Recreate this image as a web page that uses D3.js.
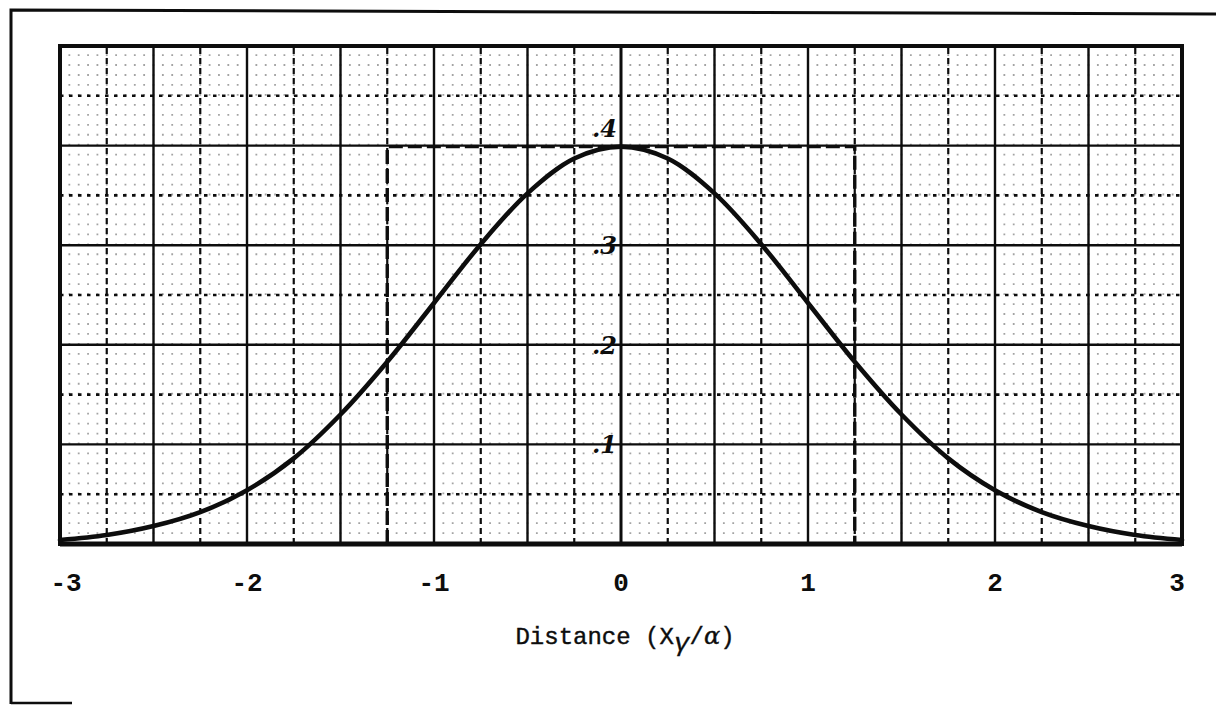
<!DOCTYPE html>
<html>
<head>
<meta charset="utf-8">
<script src="https://cdn.jsdelivr.net/npm/d3@7"></script>
<style>
  html, body { margin: 0; padding: 0; background: #fff; }
  svg { display: block; }
</style>
</head>
<body>
<svg id="chart" width="1216" height="705"></svg>
<script>
// Normal density curve, sampled every quarter unit
const curveX = [-3, -2.75, -2.5, -2.25, -2, -1.75, -1.5, -1.25, -1, -0.75, -0.5, -0.25,
                0, 0.25, 0.5, 0.75, 1, 1.25, 1.5, 1.75, 2, 2.25, 2.5, 2.75, 3];
const curveY = [0.004, 0.009, 0.018, 0.032, 0.054, 0.086, 0.130, 0.183, 0.242, 0.301, 0.352, 0.387,
                0.399, 0.387, 0.352, 0.301, 0.242, 0.183, 0.130, 0.086, 0.054, 0.032, 0.018, 0.009, 0.004];

// Rectangle of equal area drawn under the peak
const boxX = [-1.25, 1.25];

// Axis labelling
const xTickValues = [-3, -2, -1, 0, 1, 2, 3];
const xTickLabels = ["-3", "-2", "-1", "0", "1", "2", "3"];
const yTickValues = [0.1, 0.2, 0.3, 0.4];
const yTickLabels = [".1", ".2", ".3", ".4"];

const svg = d3.select("#chart");

const x = d3.scaleLinear().domain([-3, 3]).range([60, 1182]);
const y = d3.scaleLinear().domain([0, 0.5]).range([544, 46]);

const ink = "#0d0d0d";

// Page frame
svg.append("path")
  .attr("d", "M11,704 L11,10 L1216,14")
  .attr("fill", "none").attr("stroke", ink).attr("stroke-width", 3);
svg.append("line")
  .attr("x1", 11).attr("x2", 72).attr("y1", 703).attr("y2", 703)
  .attr("stroke", ink).attr("stroke-width", 2.5);

const grid = svg.append("g");

// Fine graph-paper dots: vertical rulings every 0.05, dotted at 0.01 intervals
const fineX = d3.range(-3, 3.0001, 0.05);
const dotStep = y(0) - y(0.01);
grid.selectAll("line.fine")
  .data(fineX)
  .join("line")
  .attr("class", "fine")
  .attr("x1", d => x(d)).attr("x2", d => x(d))
  .attr("y1", y(0)).attr("y2", y(0.5))
  .attr("stroke", ink)
  .attr("stroke-opacity", 0.38)
  .attr("stroke-width", 1.8)
  .attr("stroke-dasharray", `1.8 ${dotStep - 1.8}`);

// Horizontal rulings: solid at tenths, dotted halfway between
const hLines = d3.range(0.05, 0.5, 0.05).map(v => +v.toFixed(2));
grid.selectAll("line.h")
  .data(hLines)
  .join("line")
  .attr("class", "h")
  .attr("x1", x(-3)).attr("x2", x(3))
  .attr("y1", d => y(d)).attr("y2", d => y(d))
  .attr("stroke", ink)
  .attr("stroke-width", d => Math.round(d * 100) % 10 === 0 ? 2.4 : 2.6)
  .attr("stroke-dasharray", d => Math.round(d * 100) % 10 === 0 ? null : "3.5 5.5");

// Vertical rulings: solid every half unit, dashed on the quarters
const vLines = d3.range(-2.75, 3, 0.25).map(v => +v.toFixed(2));
grid.selectAll("line.v")
  .data(vLines)
  .join("line")
  .attr("class", "v")
  .attr("x1", d => x(d)).attr("x2", d => x(d))
  .attr("y1", y(0)).attr("y2", y(0.5))
  .attr("stroke", ink)
  .attr("stroke-width", d => Math.round(d * 100) % 50 === 0 ? (d === 0 ? 3 : 2.4) : 2.2)
  .attr("stroke-dasharray", d => Math.round(d * 100) % 50 === 0 ? null : "6 4");

// Plot border
svg.append("rect")
  .attr("x", x(-3)).attr("y", y(0.5))
  .attr("width", x(3) - x(-3)).attr("height", y(0) - y(0.5))
  .attr("fill", "none").attr("stroke", ink).attr("stroke-width", 4);
svg.append("line")
  .attr("x1", x(-3)).attr("x2", x(3)).attr("y1", y(0)).attr("y2", y(0))
  .attr("stroke", ink).attr("stroke-width", 5);

// Equal-area rectangle, dashed
const peak = d3.max(curveY);
svg.append("path")
  .attr("d", `M${x(boxX[0])},${y(0)} L${x(boxX[0])},${y(peak)} L${x(boxX[1])},${y(peak)} L${x(boxX[1])},${y(0)}`)
  .attr("fill", "none").attr("stroke", ink)
  .attr("stroke-width", 3.4).attr("stroke-dasharray", "14 5");

// Density curve
const line = d3.line()
  .x((d, i) => x(curveX[i]))
  .y(d => y(d))
  .curve(d3.curveCatmullRom.alpha(0.5));
svg.append("path")
  .datum(curveY)
  .attr("d", line)
  .attr("fill", "none").attr("stroke", ink)
  .attr("stroke-width", 4.6).attr("stroke-linecap", "round");

// X tick labels
svg.append("g")
  .selectAll("text")
  .data(xTickValues)
  .join("text")
  .attr("x", d => x(d) + (d === -3 ? 6 : d === 3 ? -5 : 0))
  .attr("y", 591)
  .attr("text-anchor", "middle")
  .attr("font-family", "'Liberation Mono', 'DejaVu Sans Mono', monospace")
  .attr("font-size", 26)
  .attr("font-weight", "bold")
  .attr("fill", ink)
  .text((d, i) => xTickLabels[i]);

// Y labels written beside the zero line
svg.append("g")
  .selectAll("text")
  .data(yTickValues)
  .join("text")
  .attr("x", x(0) - 4)
  .attr("y", d => y(d) + (d === 0.4 ? -9 : 9))
  .attr("text-anchor", "end")
  .attr("font-family", "'DejaVu Serif', serif")
  .attr("font-style", "italic")
  .attr("font-weight", "bold")
  .attr("font-size", 24)
  .attr("fill", ink)
  .text((d, i) => yTickLabels[i]);

// X axis title
const title = svg.append("text")
  .attr("x", x(0) + 4)
  .attr("y", 644)
  .attr("text-anchor", "middle")
  .attr("font-family", "'Liberation Mono', 'DejaVu Sans Mono', monospace")
  .attr("font-size", 24)
  .attr("stroke", ink).attr("stroke-width", 0.4)
  .attr("fill", ink);
title.append("tspan").text("Distance (X");
title.append("tspan").attr("dy", 7).attr("font-style", "italic").attr("font-size", 26).text("γ");
title.append("tspan").attr("dy", -7).text("/");
title.append("tspan").attr("font-style", "italic").attr("font-family", "'DejaVu Serif', serif").text("α");
title.append("tspan").text(")");
</script>
</body>
</html>
